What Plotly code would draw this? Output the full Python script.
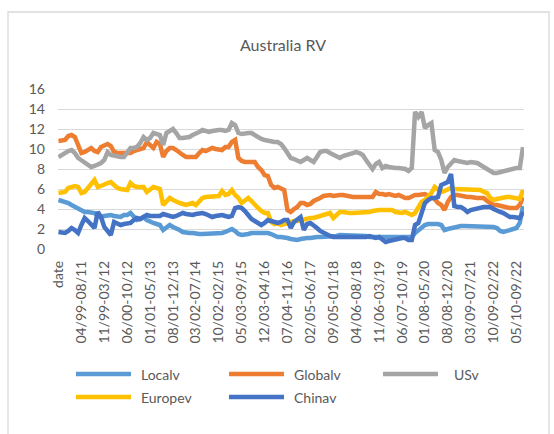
import plotly.graph_objects as go

# ---- category axis: header cell followed by monthly period labels ----
def shift_month(month, year, k):
    total = year * 12 + (month - 1) + k
    return total % 12 + 1, total // 12

categories = ["date"]
for k in range(1, 143):
    m1, y1 = shift_month(4, 1999, k - 7)
    m2, y2 = shift_month(8, 2011, k - 7)
    categories.append(f"{m1:02d}/{y1 % 100:02d}-{m2:02d}/{y2 % 100:02d}")

# ---- series values ----
localv = [
    4.9, 4.8, 4.8, 4.6, 4.4, 4.2, 4.1, 3.9, 3.7, 3.7,
    3.7, 3.6, 3.3, 3.2, 3.3, 3.4, 3.4, 3.3, 3.2, 3.2,
    3.4, 3.4, 3.6, 3.3, 2.9, 3.0, 3.2, 2.9, 2.7, 2.6,
    2.5, 2.4, 1.9, 2.2, 2.4, 2.2, 2.1, 1.9, 1.7, 1.6,
    1.6, 1.6, 1.5, 1.5, 1.5, 1.5, 1.5, 1.6, 1.6, 1.5,
    1.6, 1.7, 1.8, 2.0, 1.8, 1.5, 1.4, 1.4, 1.5, 1.6,
    1.6, 1.7, 1.7, 1.6, 1.6, 1.5, 1.3, 1.2, 1.2, 1.2,
    1.1, 1.0, 0.9, 0.9, 1.0, 1.1, 1.1, 1.1, 1.2, 1.2,
    1.2, 1.2, 1.2, 1.3, 1.3, 1.3, 1.4, 1.4, 1.4, 1.4,
    1.4, 1.4, 1.4, 1.3, 1.3, 1.2, 1.2, 1.2, 1.2, 1.2,
    1.2, 1.2, 1.2, 1.2, 1.2, 1.2, 1.2, 1.2, 1.2, 1.6,
    1.9, 2.2, 2.4, 2.5, 2.5, 2.6, 2.5, 2.4, 1.9, 2.0,
    2.1, 2.2, 2.2, 2.3, 2.3, 2.3, 2.3, 2.2, 2.2, 2.2,
    2.2, 2.2, 2.2, 2.2, 2.1, 1.8, 1.7, 1.8, 1.9, 1.9,
    2.1, 2.6, 4.3,
]

globalv = [
    10.8, 10.8, 10.9, 11.3, 11.4, 11.2, 10.4, 9.6, 9.7, 9.9,
    10.1, 9.8, 9.7, 10.2, 10.4, 10.5, 10.3, 9.7, 9.6, 9.6,
    9.6, 9.5, 9.6, 9.8, 9.9, 10.0, 10.1, 10.7, 10.4, 10.1,
    10.7, 10.5, 9.2, 9.8, 10.1, 10.1, 9.9, 9.6, 9.4, 9.2,
    9.2, 9.3, 9.2, 9.6, 9.9, 9.8, 10.0, 10.1, 10.0, 10.0,
    9.9, 10.2, 10.2, 10.7, 10.9, 9.1, 8.8, 8.7, 8.7, 8.6,
    8.7, 8.2, 7.9, 7.4, 7.3, 6.4, 6.1, 6.2, 6.0, 5.9,
    3.9, 3.7, 4.0, 4.2, 4.6, 4.6, 4.4, 4.5, 4.8, 4.9,
    5.1, 5.3, 5.4, 5.4, 5.3, 5.4, 5.4, 5.4, 5.3, 5.3,
    5.2, 5.2, 5.2, 5.1, 5.2, 5.2, 5.2, 5.7, 5.5, 5.5,
    5.4, 5.5, 5.4, 5.3, 5.4, 5.2, 5.1, 5.1, 5.3, 5.4,
    5.4, 5.4, 5.5, 5.3, 5.1, 5.0, 4.6, 4.4, 3.9, 4.7,
    5.2, 5.4, 5.4, 5.3, 5.2, 5.2, 5.2, 5.1, 5.1, 5.1,
    5.1, 4.8, 4.6, 4.4, 4.4, 4.3, 4.3, 4.2, 4.1, 4.1,
    4.1, 4.4, 5.2,
]

usv = [
    9.2, 9.4, 9.7, 9.8, 9.9, 9.6, 9.1, 8.9, 8.7, 8.5,
    8.2, 8.3, 8.4, 8.6, 8.9, 9.7, 9.4, 9.3, 9.2, 9.2,
    9.2, 9.6, 10.1, 10.1, 10.2, 10.6, 11.2, 10.9, 11.1, 11.6,
    11.5, 11.4, 10.4, 11.6, 11.8, 12.0, 11.6, 11.1, 11.1, 11.1,
    11.2, 11.4, 11.5, 11.7, 11.9, 11.8, 11.7, 11.8, 11.9, 11.9,
    11.9, 11.8, 11.9, 12.6, 12.4, 11.6, 11.5, 11.6, 11.6, 11.6,
    11.4, 11.1, 11.0, 10.9, 10.8, 10.7, 10.7, 10.7, 10.5, 10.1,
    9.6, 9.1, 9.0, 8.8, 8.7, 8.9, 9.1, 8.9, 8.7, 9.2,
    9.7, 9.8, 9.8, 9.6, 9.4, 9.2, 9.1, 9.3, 9.4, 9.4,
    9.6, 9.7, 9.6, 9.4, 8.9, 8.4, 8.0, 8.5, 8.7, 8.1,
    8.3, 8.2, 8.1, 8.1, 8.1, 8.1, 8.0, 7.8, 8.1, 13.7,
    13.2, 13.7, 12.1, 12.4, 12.6, 9.9, 9.7, 8.9, 7.6, 8.2,
    8.6, 8.9, 8.8, 8.7, 8.7, 8.6, 8.7, 8.7, 8.6, 8.4,
    8.2, 8.0, 7.8, 7.6, 7.6, 7.7, 7.8, 7.9, 8.0, 8.0,
    8.1, 8.1, 10.2,
]

europev = [
    5.6, 5.6, 5.7, 6.1, 6.2, 6.3, 6.2, 5.6, 5.7, 6.2,
    6.5, 6.9, 6.2, 6.3, 6.5, 6.6, 6.7, 6.4, 6.1, 6.0,
    5.9, 5.9, 6.6, 6.3, 6.2, 6.2, 6.2, 5.7, 6.0, 6.2,
    6.1, 6.0, 4.4, 4.8, 5.1, 4.9, 4.7, 4.6, 4.5, 4.4,
    4.5, 4.6, 4.4, 4.7, 5.1, 5.2, 5.2, 5.2, 5.3, 5.3,
    5.8, 5.4, 5.5, 5.9, 5.4, 5.1, 4.6, 4.8, 5.1, 4.8,
    4.4, 4.1, 3.8, 3.6, 3.6, 2.7, 2.5, 2.6, 2.4, 2.5,
    2.7, 2.7, 2.8, 2.8, 2.9, 3.0, 3.1, 3.1, 3.1, 3.2,
    3.2, 3.3, 3.5, 3.6, 3.1, 3.4, 3.7, 3.7, 3.6, 3.6,
    3.6, 3.6, 3.6, 3.6, 3.7, 3.7, 3.8, 3.9, 3.9, 3.9,
    3.9, 3.9, 3.9, 3.7, 3.6, 3.6, 3.7, 3.5, 3.4, 3.6,
    4.2, 4.7, 4.9, 5.2, 5.6, 6.2, 6.0, 5.7, 5.8, 6.0,
    6.1, 6.0, 6.0, 6.0, 5.9, 6.0, 5.9, 5.9, 5.9, 5.9,
    5.7, 5.6, 5.1, 4.9, 5.0, 5.1, 5.1, 5.2, 5.2, 5.1,
    5.1, 5.0, 5.9,
]

chinav = [
    1.7, 1.7, 1.6, 1.8, 2.1, 1.9, 1.6, 2.4, 3.1, 2.8,
    2.5, 2.1, 3.7, 3.2, 2.2, 1.8, 1.4, 2.7, 2.5, 2.4,
    2.5, 2.6, 2.6, 2.9, 3.1, 3.0, 3.2, 3.4, 3.3, 3.3,
    3.2, 3.3, 3.5, 3.4, 3.3, 3.2, 3.3, 3.5, 3.6, 3.5,
    3.4, 3.4, 3.5, 3.6, 3.6, 3.5, 3.4, 3.2, 3.3, 3.4,
    3.4, 3.3, 3.2, 3.3, 4.1, 4.2, 4.1, 3.8, 3.4, 3.0,
    2.8, 2.6, 2.4, 2.6, 2.9, 2.8, 2.7, 2.6, 2.7, 2.9,
    2.9, 2.1, 2.7, 3.0, 3.2, 1.9, 2.5, 2.6, 2.4, 2.1,
    1.8, 1.6, 1.4, 1.3, 1.2, 1.2, 1.1, 1.1, 1.1, 1.1,
    1.1, 1.1, 1.1, 1.2, 1.2, 1.3, 1.2, 1.1, 1.2, 1.0,
    0.7, 0.8, 0.9, 0.9, 1.0, 1.1, 1.1, 0.9, 0.9, 2.4,
    2.6, 3.6, 4.6, 4.9, 5.1, 5.1, 5.2, 6.4, 6.6, 6.7,
    7.5, 4.3, 4.2, 4.2, 4.0, 3.7, 3.9, 4.0, 4.1, 4.1,
    4.2, 4.2, 4.2, 4.0, 3.8, 3.7, 3.6, 3.4, 3.2, 3.2,
    3.1, 3.1, 3.7,
]

series = [
    ("Localv", localv, "#5B9BD5"),
    ("Globalv", globalv, "#ED7D31"),
    ("USv", usv, "#A5A5A5"),
    ("Europev", europev, "#FFC000"),
    ("Chinav", chinav, "#4472C4"),
]

y_ticks = [0, 2, 4, 6, 8, 10, 12, 14, 16]
label_step = 7

FONT = "Lato"
TEXT = "#595959"
GRID = "#D9D9D9"

W, H = 554, 434
ML, MR, MT, MB = 58, 30, 89, 185
PW, PH = W - ML - MR, H - MT - MB


def px(x):
    return (x - ML) / PW


def py(y):
    return (H - MB - y) / PH


fig = go.Figure()
for name, vals, color in series:
    fig.add_trace(go.Scatter(
        x=categories, y=vals, name=name, mode="lines",
        line=dict(color=color, width=4.5),
        showlegend=False,
    ))

tick_pos = categories[::label_step]

fig.update_layout(
    width=W, height=H,
    margin=dict(l=ML, r=MR, t=MT, b=MB, pad=0),
    paper_bgcolor="white", plot_bgcolor="white",
    font=dict(family=FONT, color=TEXT, size=14),
    title=dict(text="Australia RV", x=px(283), xref="paper", xanchor="center",
               y=1 - 45 / H, yanchor="middle",
               font=dict(family=FONT, size=16, color=TEXT)),
    xaxis=dict(
        type="category", range=[-0.15, 142.3],
        tickmode="array", tickvals=tick_pos, ticktext=tick_pos,
        tickangle=-90, showgrid=False, zeroline=False, showline=False,
        ticks="", ticklabelstandoff=8,
        tickfont=dict(family=FONT, size=14, color=TEXT),
    ),
    yaxis=dict(
        range=[0, 16], tickvals=y_ticks, showgrid=True, gridcolor=GRID,
        gridwidth=1.3, zeroline=False, showline=False, ticks="",
        ticklabelstandoff=12,
        tickfont=dict(family=FONT, size=14, color=TEXT),
    ),
)

# chart-area frame
fig.add_shape(type="rect", xref="paper", yref="paper",
              x0=px(8), x1=px(549), y0=py(440), y1=py(12),
              line=dict(color=GRID, width=1.3), fillcolor="rgba(0,0,0,0)",
              layer="below")

# legend laid out in two rows of three columns
legend_cols = [76, 229, 383]
legend_text_x = [139, 292, 452]
legend_rows = [374, 397]
for i, (name, vals, color) in enumerate(series):
    r, c = divmod(i, 3)
    yy = legend_rows[r]
    fig.add_shape(type="line", xref="paper", yref="paper",
                  x0=px(legend_cols[c]), x1=px(legend_cols[c] + 55),
                  y0=py(yy), y1=py(yy), line=dict(color=color, width=4.5))
    fig.add_annotation(xref="paper", yref="paper", x=px(legend_text_x[c]),
                       y=py(yy), text=name, showarrow=False,
                       xanchor="left", yanchor="middle",
                       font=dict(family=FONT, size=14, color=TEXT))

fig.write_html("out.html")
